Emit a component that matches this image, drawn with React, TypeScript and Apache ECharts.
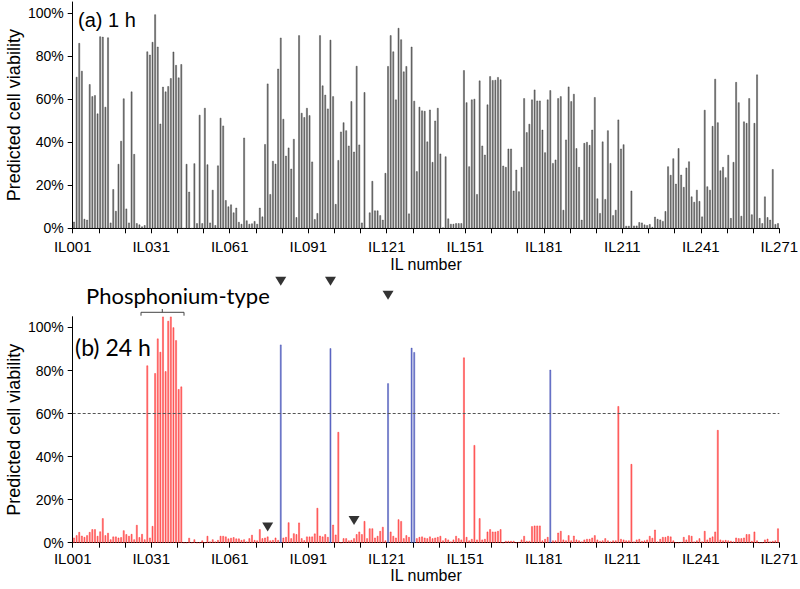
import React, { useEffect, useRef } from "react";
import * as echarts from "echarts";

// IL compound names (categories)
const ilNames: string[] = Array.from({ length: 270 }, (_, k) => "IL" + String(k + 1).padStart(3, "0"));

// (a) 1 h predicted cell viability (%), IL001..IL270
const viability1h: number[] = [
  3, 70.2, 85.9, 73, 4.3, 3.9, 66.8, 61.2, 61.7, 53.2,
  89, 88.8, 56.3, 88.5, 2.6, 18.1, 8, 29.8, 40.5, 60.2,
  9.1, 2.6, 63.4, 34.4, 2.3, 1.7, 0.8, 1.4, 82, 80.5,
  86.4, 99.2, 84.2, 48.5, 65.6, 63.4, 65.9, 69.6, 81.9, 75.7,
  69.9, 76.1, 0, 29.8, 16.9, 0, 30.1, 2.3, 52.6, 2.3,
  55.8, 29.6, 2.6, 17.8, 1.4, 29.1, 51.2, 47.6, 13, 10.1,
  11, 7.3, 9.5, 2.9, 2, 42, 3.6, 2, 2.2, 3.3,
  2, 9.5, 5.4, 39, 67.1, 15.8, 31.2, 29.9, 74, 88.4,
  50.7, 33.6, 37.4, 27.6, 41.4, 5.1, 89.5, 53.5, 51.5, 55.8,
  52.4, 30.9, 4.2, 7, 89.5, 66.2, 61.9, 55.5, 87.4, 61.2,
  11.2, 31.6, 44.8, 49.1, 45.4, 38.3, 58.9, 35.5, 75.3, 38.8,
  2.6, 63.1, 0, 7.3, 21.9, 8.2, 8.2, 6, 3.9, 25.6,
  75.2, 89.5, 82, 59.7, 92.9, 87.6, 72.7, 75.2, 6.8, 84.2,
  59.1, 26.4, 56.3, 54.6, 54.4, 40.2, 55, 30.7, 49.9, 55.8,
  34.6, 0.3, 33.3, 4.5, 2, 2, 2.3, 2.3, 2.3, 73.3,
  58.4, 28.7, 59.7, 60, 15.8, 68.5, 38.3, 34.1, 57.4, 70.5,
  68.7, 68.8, 70.1, 69, 29, 28.4, 36.9, 36.9, 17.4, 27.1,
  17.1, 28.4, 60.3, 44.5, 48.4, 59.7, 64.3, 59.2, 59.2, 45.7,
  35.2, 59.7, 64, 30.2, 31.8, 60.3, 61.2, 8.5, 41.1, 65.7,
  58.9, 62.3, 37.1, 28.4, 3.9, 39.5, 40, 38.6, 45.7, 60.8,
  13.8, 7, 40.2, 13.5, 45.4, 30.2, 6, 8.5, 50.4, 36.9,
  38.9, 1.1, 1.1, 17.4, 1.2, 1.2, 2.8, 2.6, 1.7, 1.4,
  1.9, 0.6, 5.3, 4.3, 4, 3.3, 7.9, 28.7, 24.7, 32.4,
  20.6, 37.1, 24.8, 19.1, 28.1, 31, 14.7, 12.2, 17.8, 12.6,
  5.4, 54.9, 19.4, 17.8, 47.4, 69.3, 49.1, 26.8, 28.4, 23.6,
  34, 4.7, 30.7, 67.8, 58.4, 5.7, 49.5, 48.8, 60.3, 6.4,
  48.8, 71.3, 4.7, 2.3, 14.7, 5.1, 3.9, 27.4, 1.9, 2.3,
];

// (b) 24 h predicted cell viability (%), IL001..IL270
const viability24h: number[] = [
  2.3, 3.4, 4.9, 3.2, 2.6, 3.4, 4.9, 6.2, 6.2, 3.1,
  5.2, 11.3, 3.4, 4.5, 1.5, 2.8, 2.8, 2.3, 2.5, 5.7,
  3.9, 3.1, 4, 1.5, 8.2, 2.5, 4, 1.5, 82.3, 2.3,
  7.7, 78.7, 94.8, 88.6, 105, 79.6, 103, 105, 100, 94,
  71.3, 72.5, 0, 0, 2.2, 0, 1.5, 0, 0, 1,
  0, 3.1, 0.5, 1.5, 0.5, 1.2, 3.1, 3.1, 2.8, 1.9,
  2.2, 2.5, 1.9, 1.9, 1.2, 1.5, 0.5, 2, 3.6, 1.2,
  1, 6.2, 2, 2.3, 2.8, 1, 1.2, 2.3, 1.2, 92,
  2.3, 2.6, 9.4, 2, 4.3, 3.9, 9.3, 2, 1.1, 2.8,
  2.8, 2.8, 4.2, 16.1, 3.2, 2.8, 3.9, 2.6, 90.3, 8.3,
  3.7, 51.4, 0, 2, 2, 1, 1.2, 2, 3.9, 5.1,
  3.9, 10, 2, 6.6, 6.6, 2.3, 3.1, 5.4, 7.3, 1,
  74, 5.1, 3.1, 2.3, 10.8, 10, 2, 3.4, 2.6, 90.5,
  88.5, 2, 2.6, 2.8, 2.3, 2, 2.8, 2, 2.3, 2.6,
  3.1, 1, 2, 1.4, 0.5, 1.4, 3.1, 2, 1.4, 86,
  2.6, 1, 1.7, 45.3, 1.4, 11.3, 1.4, 1.7, 5.1, 6.2,
  5.1, 5.1, 5.4, 6.2, 0, 0.8, 0.8, 0.8, 0.8, 0,
  0.3, 1.4, 3.1, 0.8, 0.8, 7.6, 7.9, 7.9, 7.9, 1,
  1.7, 2.6, 80.3, 1, 1, 4.6, 5.4, 1.4, 1, 3.4,
  1, 3.2, 1.4, 1, 0.5, 1.4, 1.7, 1.7, 2.3, 3.4,
  1.4, 0.8, 1, 2, 1, 0.5, 1, 1, 63.4, 1.7,
  1.4, 1, 1, 36.5, 0.5, 1.4, 1.7, 0.8, 1, 1.4,
  3.1, 2.2, 6, 0.5, 1.7, 2.6, 2.6, 3.1, 2.8, 1,
  0, 0, 0.3, 2.6, 1.4, 3.4, 3.1, 0.5, 1, 2,
  0.5, 5.4, 1.4, 2.3, 2.8, 5.1, 52.3, 1.4, 1, 1.2,
  1, 0.8, 0.5, 2.3, 2, 2, 2.3, 3.9, 3.9, 0.8,
  5.1, 1, 0, 0, 1.4, 1.8, 0.5, 0.8, 1, 6.6,
];

// ILs drawn in blue in panel (b)
const blueILs: number[] = [80, 99, 121, 130, 131, 183];

// Triangle markers in panel (b): IL number and vertical position (%)
const markerILs: number[] = [80, 99, 121, 75, 108];
const markerLevels: number[] = [121.5, 121.5, 115, 7.3, 10.3];

// Axis ticks / labels
const yTickValues: number[] = [0, 20, 40, 60, 80, 100];
const xTickValues: number[] = Array.from({ length: 28 }, (_, k) => k * 10);
const xLabelValues: number[] = [0, 30, 60, 90, 120, 150, 180, 210, 240, 270];
const thresholdLine = 60;

const ARIAL = "Liberation Sans, Arial, sans-serif";
const CALIBRI = "Lato, Open Sans, sans-serif";

function makeXAxis(gridIndex: number, labelMargin: number, nameGap: number) {
  return {
    type: "value" as const,
    gridIndex,
    min: 0,
    max: 270,
    axisLine: { show: true, onZero: false, lineStyle: { color: "#000", width: 1 } },
    axisTick: { show: true, customValues: xTickValues, length: 5, lineStyle: { color: "#000" } },
    axisLabel: {
      customValues: xLabelValues,
      formatter: (v: number) => (ilNames[v] ? ilNames[v] : "IL" + String(v + 1).padStart(3, "0")),
      fontSize: 15,
      fontFamily: ARIAL,
      color: "#000",
      margin: labelMargin,
    },
    splitLine: { show: false },
    name: "IL number",
    nameLocation: "middle" as const,
    nameGap,
    nameMoveOverlap: false,
    nameTextStyle: { fontSize: 16, fontFamily: ARIAL, color: "#000" },
  };
}

function makeYAxis(gridIndex: number) {
  return {
    type: "value" as const,
    gridIndex,
    min: 0,
    max: 105,
    axisLine: { show: true, lineStyle: { color: "#000", width: 1 } },
    axisTick: { show: true, customValues: yTickValues, length: 5, lineStyle: { color: "#000" } },
    axisLabel: {
      customValues: yTickValues,
      formatter: "{value}%",
      fontSize: 14,
      fontFamily: ARIAL,
      color: "#000",
      margin: 9,
    },
    splitLine: { show: false },
    name: "Predicted cell viability",
    nameLocation: "middle" as const,
    nameGap: 50,
    nameMoveOverlap: false,
    nameTextStyle: { fontSize: 18, fontFamily: ARIAL, color: "#000" },
  };
}

export default function App() {
  const ref = useRef<HTMLDivElement>(null);

  useEffect(() => {
    if (!ref.current) return;
    const chart = echarts.init(ref.current, undefined, { renderer: "svg" });

    const topData = viability1h.map((v, k) => [k + 0.5, v]);
    const bottomData = viability24h.map((v, k) => {
      const isBlue = blueILs.indexOf(k + 1) >= 0;
      return {
        value: [k + 0.5, v],
        itemStyle: isBlue
          ? { color: "#6f78cf", borderColor: "#3040a8", borderWidth: 0.4 }
          : { color: "#ff7a7a", borderColor: "#ff1010", borderWidth: 0.4 },
      };
    });
    const markerData = markerILs.map((il, k) => [il - 0.5, markerLevels[k]]);

    chart.setOption({
      animation: false,
      backgroundColor: "#fff",
      grid: [
        { left: 72.7, right: 20.7, top: 2, height: 226.3, containLabel: false, outerBoundsMode: "none" },
        { left: 72.7, right: 20.7, top: 316.7, height: 226, containLabel: false, outerBoundsMode: "none" },
      ],
      xAxis: [makeXAxis(0, 11, 28), makeXAxis(1, 8, 25)],
      yAxis: [makeYAxis(0), makeYAxis(1)],
      series: [
        {
          type: "bar",
          xAxisIndex: 0,
          yAxisIndex: 0,
          data: topData,
          barWidth: 1.5,
          itemStyle: { color: "#777", borderColor: "#2a2a2a", borderWidth: 0.4 },
        },
        {
          type: "bar",
          xAxisIndex: 1,
          yAxisIndex: 1,
          data: bottomData,
          barWidth: 1.5,
          markLine: {
            silent: true,
            symbol: ["none", "none"],
            label: { show: false },
            lineStyle: { type: [3, 2], color: "#555", width: 1 },
            data: [{ yAxis: thresholdLine }],
          },
        },
        {
          type: "scatter",
          xAxisIndex: 1,
          yAxisIndex: 1,
          data: markerData,
          symbol: "triangle",
          symbolRotate: 180,
          symbolSize: [11, 9],
          itemStyle: { color: "#000" },
          clip: false,
          z: 10,
        },
      ],
      graphic: [
        {
          type: "text",
          style: { text: "(a) 1 h", x: 78, y: 20, textVerticalAlign: "middle", fontSize: 20, fontFamily: ARIAL, fill: "#000" },
        },
        {
          type: "text",
          style: { text: "(b) 24 h", x: 75, y: 347, textVerticalAlign: "middle", fontSize: 23, fontFamily: CALIBRI, fill: "#000" },
        },
        {
          type: "text",
          style: { text: "Phosphonium-type", x: 86, y: 295, textVerticalAlign: "middle", fontSize: 22, fontFamily: CALIBRI, fill: "#000" },
        },
        {
          type: "polyline",
          shape: { points: [[141, 315.7], [141, 312.3], [184, 312.3], [184, 315.7]] },
          style: { stroke: "#444", lineWidth: 1, fill: "none" },
        },
        {
          type: "line",
          shape: { x1: 162.3, y1: 312.3, x2: 162.3, y2: 309 },
          style: { stroke: "#444", lineWidth: 1 },
        },
      ],
    });

    return () => chart.dispose();
  }, []);

  return (
    <div
      ref={ref}
      style={{ position: "fixed", left: 0, top: 0, width: 800, height: 589, background: "#fff" }}
    />
  );
}
